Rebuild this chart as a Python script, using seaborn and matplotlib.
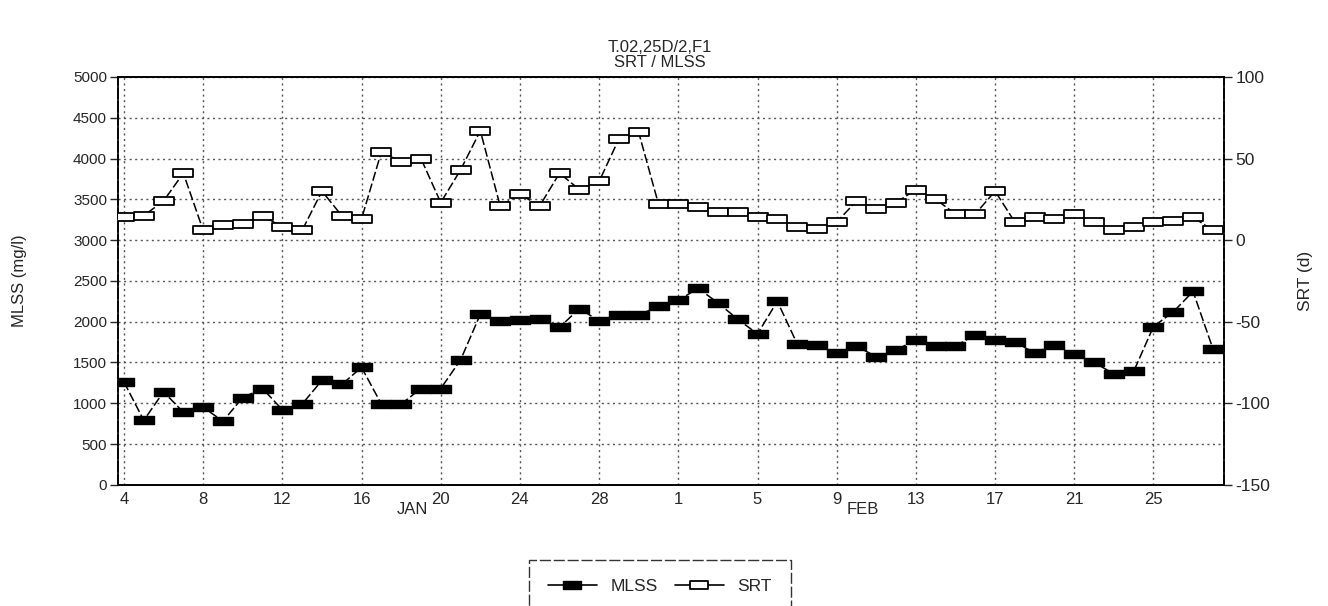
import numpy as np
import pandas as pd
import matplotlib
matplotlib.use("Agg")
import matplotlib.pyplot as plt
import matplotlib.dates as mdates
import matplotlib.transforms as mtransforms
from matplotlib.path import Path
from matplotlib.lines import Line2D
import seaborn as sns

# ---------------- data ----------------
dates = pd.date_range("1992-01-04", "1992-02-28", freq="D")
mlss = [1260, 790, 1140, 890, 950, 780, 1070, 1180, 920, 990, 1280, 1230, 1440, 990,
        990, 1180, 1180, 1530, 2090, 2010, 2020, 2030, 1930, 2160, 2010, 2080, 2080, 2190,
        2260, 2410, 2230, 2030, 1850, 2250, 1730, 1720, 1620, 1700, 1570, 1650, 1780, 1700,
        1700, 1840, 1780, 1745, 1620, 1720, 1600, 1500, 1360, 1390, 1940, 2120, 2370, 1670]
srt = [14, 15, 24, 41, 6, 9, 10, 15, 8, 6, 30, 15, 13, 54,
       48, 50, 23, 43, 67, 21, 28, 21, 41, 31, 36, 62, 66, 22,
       22, 20, 17, 17, 14, 13, 8, 7, 11, 24, 19, 23, 31, 25,
       16, 16, 30, 11, 14, 13, 16, 11, 6, 8, 11, 12, 14, 6]
left_ticks = list(range(0, 5001, 500))
right_ticks = [100, 50, 0, -50, -100, -150]
title_lines = ["T.02,25D/2,F1", "SRT / MLSS"]
month_labels = [("JAN", "1992-01-18 14:00"), ("FEB", "1992-02-10 08:00")]

df = pd.DataFrame({"date": dates, "MLSS": mlss, "SRT": srt})

# ---------------- style ----------------
sns.set_style("white")
plt.rcParams["font.family"] = ["Liberation Sans", "DejaVu Sans"]

fig = plt.figure(figsize=(13.28, 6.06), dpi=100)
ax = fig.add_axes([0.089, 0.20, 0.833, 0.673])
ax2 = ax.twinx()

rect = Path([(-1.1, -0.5), (1.1, -0.5), (1.1, 0.5), (-1.1, 0.5), (-1.1, -0.5)],
            [Path.MOVETO, Path.LINETO, Path.LINETO, Path.LINETO, Path.CLOSEPOLY])

sns.lineplot(data=df, x="date", y="MLSS", ax=ax, color="black", lw=1.1,
             marker=rect, markersize=14, markerfacecolor="black",
             markeredgecolor="black", markeredgewidth=1.0,
             linestyle=(0, (6, 2)), legend=False, zorder=3)
sns.lineplot(data=df, x="date", y="SRT", ax=ax2, color="black", lw=1.1,
             marker=rect, markersize=14, markerfacecolor="white",
             markeredgecolor="black", markeredgewidth=1.3,
             linestyle=(0, (6, 2)), legend=False, zorder=3)

xmin = dates[0] - pd.Timedelta(hours=7)
xmax = dates[-1] + pd.Timedelta(hours=14)
ax.set_xlim(xmin, xmax)
ax.set_ylim(0, 5000)
ax2.set_ylim(-150, 100)

ax.set_yticks(left_ticks)
ax.set_yticklabels([str(v) for v in left_ticks], fontsize=11)
ax2.set_yticks(right_ticks)
ax2.set_yticklabels([str(v) for v in right_ticks], fontsize=12.5)

major = dates[::4]
ax.set_xticks(major)
ax.set_xticklabels([str(d.day) for d in major], fontsize=12)
ax.set_xticks(dates, minor=True)
ax.tick_params(axis="x", which="major", direction="inout", length=7, width=1, pad=2)
ax.tick_params(axis="x", which="minor", direction="inout", length=4, width=1)
ax.tick_params(axis="y", direction="out", length=6, width=1, pad=2)
ax2.tick_params(axis="y", direction="out", length=6, width=1, pad=2)

# grid
ax.grid(True, which="major", axis="both", linestyle=(0, (1.5, 2.5)),
        color="#555555", linewidth=1.0)
ax.set_axisbelow(True)

for a in (ax, ax2):
    a.set_xlabel("")
    for s in a.spines.values():
        s.set_color("black")
        s.set_linewidth(1.2)
ax.spines["left"].set_linestyle((0, (6, 2)))
ax2.spines["right"].set_linestyle((0, (6, 2)))

ax.set_ylabel("MLSS (mg/l)", fontsize=12, labelpad=33)
ax2.set_ylabel("SRT (d)", fontsize=12.5, labelpad=20)

trans = mtransforms.blended_transform_factory(ax.transData, ax.transAxes)
for lab, when in month_labels:
    ax.text(pd.Timestamp(when), -0.042, lab, transform=trans, ha="center",
            va="top", fontsize=12)

fig.text(0.497, 0.884, "\n".join(title_lines), ha="center", va="bottom",
         fontsize=12, linespacing=1.05)

handles = [
    Line2D([], [], color="black", lw=1.2, marker=rect, markersize=13,
           markerfacecolor="black", markeredgecolor="black"),
    Line2D([], [], color="black", lw=1.2, marker=rect, markersize=13,
           markerfacecolor="white", markeredgecolor="black", markeredgewidth=1.3),
]
leg = fig.legend(handles, ["MLSS", "SRT"], loc="upper center",
                 bbox_to_anchor=(0.497, 0.09), ncol=2, frameon=True,
                 fontsize=12.5, handlelength=2.8, handletextpad=0.8,
                 borderpad=1.1, columnspacing=1.0, fancybox=False)
leg.get_frame().set_edgecolor("black")
leg.get_frame().set_linewidth(1.0)
leg.get_frame().set_linestyle((0, (8, 2)))

fig.savefig("out.png", dpi=100)
